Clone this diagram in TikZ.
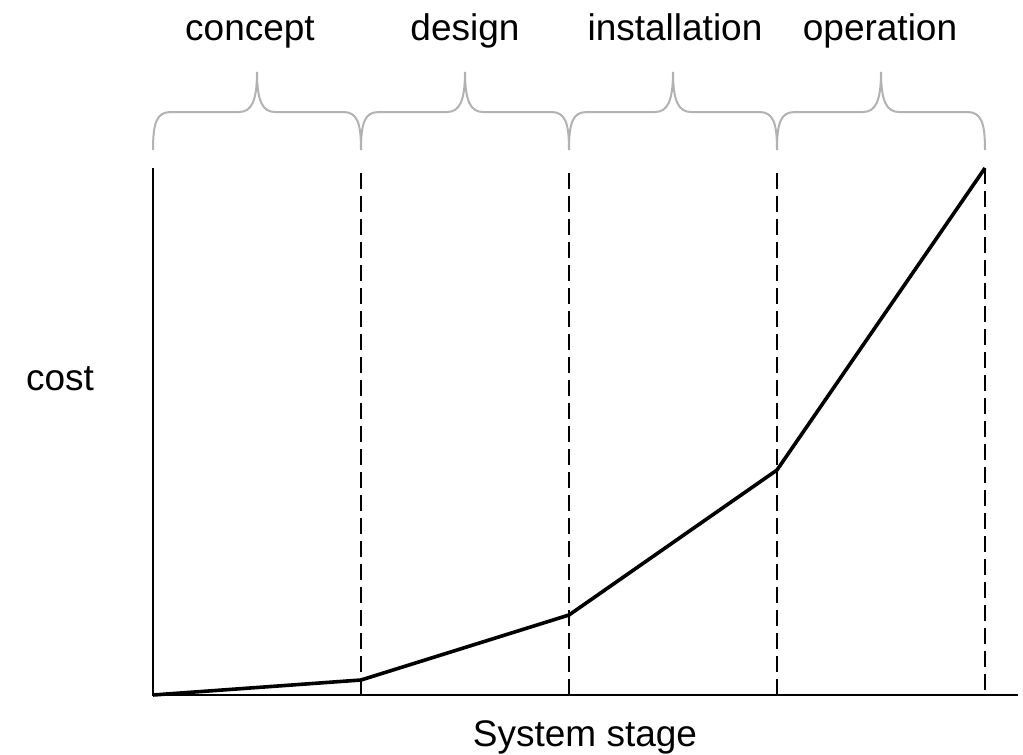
\documentclass[tikz,border=0pt]{standalone}
\usepackage{fontspec}
\setmainfont{Liberation Sans}
\begin{document}
\begin{tikzpicture}[x=1pt,y=-1pt,
  lbl/.style={anchor=base,inner sep=0pt,font=\fontsize{37}{40}\selectfont},
  axisline/.style={line width=2pt,black},
  stagedash/.style={line width=1.8pt,dash pattern=on 16pt off 7pt},
  costline/.style={line width=3.6pt,line join=round},
  bracecol/.style={line width=2pt,color={rgb,255:red,178;green,178;blue,178}}]
\useasboundingbox (0,0) rectangle (1023,755);
% axes
\coordinate (O) at (153,695);
\coordinate (Ytop) at (153,168);
\coordinate (Xend) at (1018,695);
\draw[axisline] (Ytop) -- (O) -- (Xend);
% stage boundaries
\foreach \n/\x/\t in {a/361/173,b/569/173,c/777/173,d/985/168}{
  \coordinate (top\n) at (\x,\t);
  \coordinate (bot\n) at (\x,695);
  \draw[stagedash] (top\n) -- (bot\n);
}
% braces
\foreach \a in {153,361,569,777}{
  \pgfmathsetmacro{\b}{\a+208}
  \pgfmathsetmacro{\m}{\a+104}
  \draw[bracecol] (\a,150) .. controls (\a,122) and (\a+4,112) .. (\a+18,112)
    -- (\m-18,112) .. controls (\m-6,112) and (\m,102) .. (\m,72)
    .. controls (\m,102) and (\m+6,112) .. (\m+18,112)
    -- (\b-18,112) .. controls (\b-4,112) and (\b,122) .. (\b,150);
}
% cost curve
\coordinate (p0) at (153,695);
\coordinate (p1) at (361,680);
\coordinate (p2) at (569,615);
\coordinate (p3) at (777,470);
\coordinate (p4) at (985,168);
\draw[costline] (p0) -- (p1) -- (p2) -- (p3) -- (p4);
% labels
\node[lbl] (concept) at (250,40) {concept};
\node[lbl] (design) at (465,40) {design};
\node[lbl] (install) at (675,40) {installation};
\node[lbl] (oper) at (880,40) {operation};
\node[lbl] (cost) at (60,390) {cost};
\node[lbl] (stage) at (585,746) {System stage};
\end{tikzpicture}
\end{document}
